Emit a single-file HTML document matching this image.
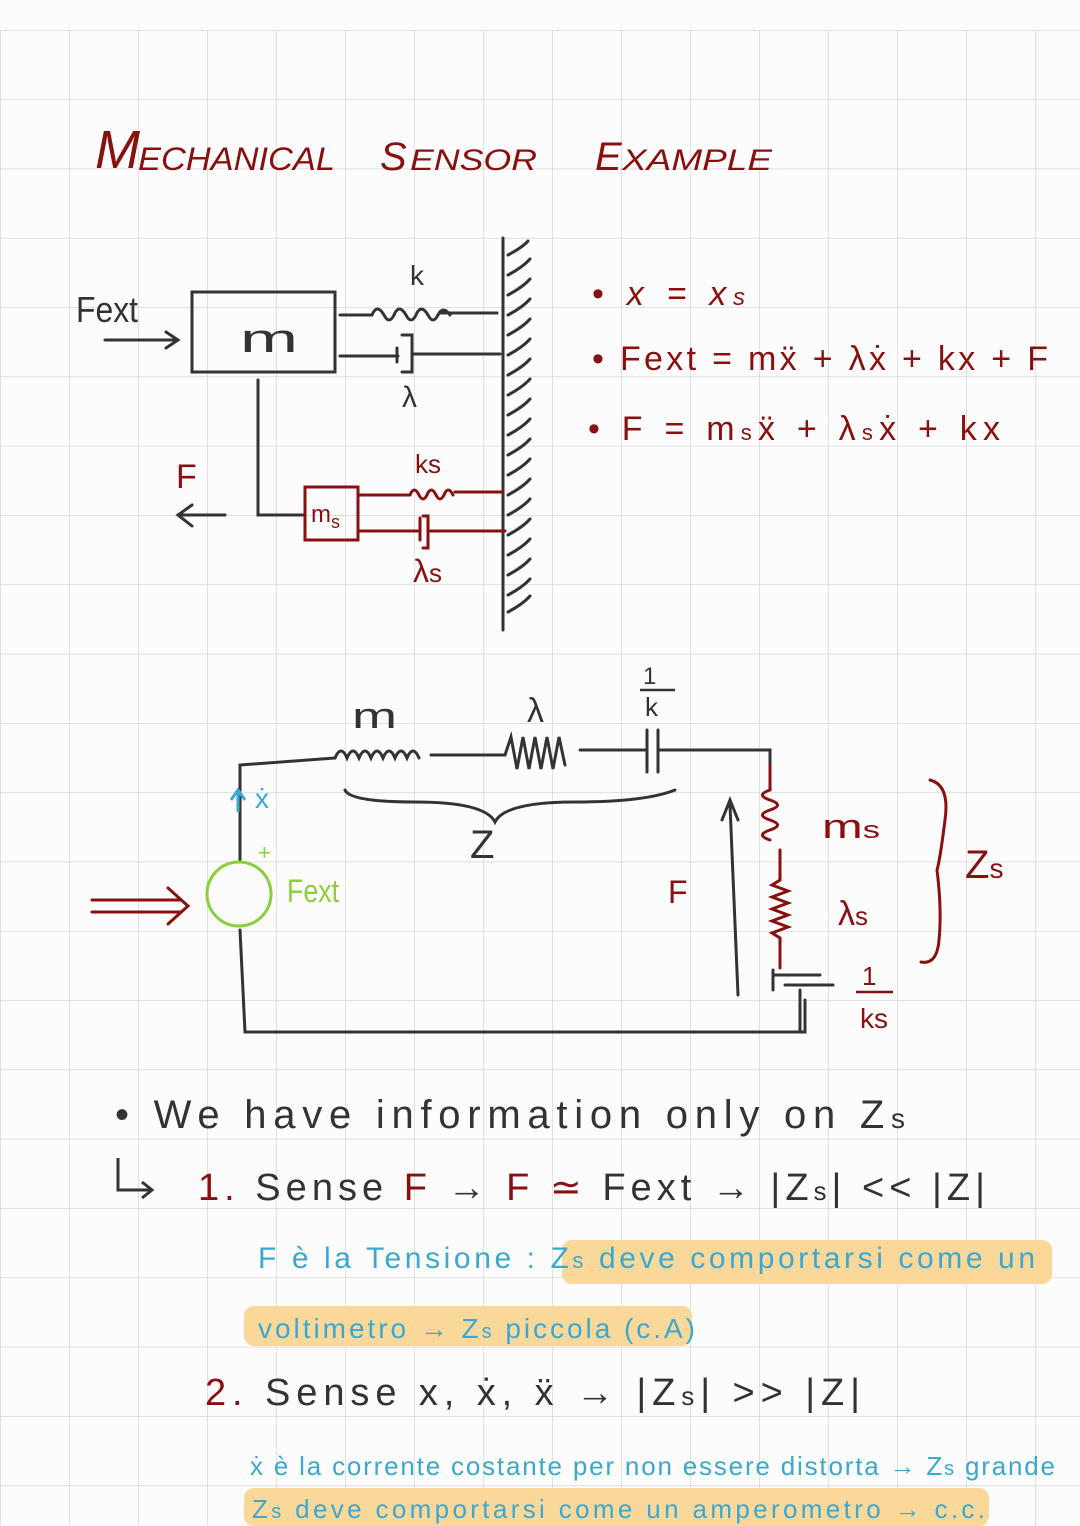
<!DOCTYPE html>
<html><head><meta charset="utf-8"><style>
html,body{margin:0;padding:0;background:#fcfcfc;}
svg{display:block}
text{font-family:"Liberation Sans",sans-serif;}
.r{fill:#8a1010}.k{fill:#333}.b{fill:#3aa8d0}.g{fill:#8ccf3c}
</style></head><body>
<svg width="1080" height="1526" viewBox="0 0 1080 1526" xmlns="http://www.w3.org/2000/svg">
<defs>
<pattern id="grid" x="0" y="30" width="69" height="69.3" patternUnits="userSpaceOnUse">
<path d="M0 0H69M0 0V69.3" stroke="#cfcfcf" stroke-width="1.2" fill="none"/>
</pattern>
</defs>
<rect x="0" y="30" width="1080" height="1496" fill="url(#grid)"/>
<!-- title -->
<text x="95" y="168" class="r" font-size="54" font-style="italic">M</text>
<text x="138" y="170" class="r" font-size="32" font-style="italic" textLength="197" lengthAdjust="spacingAndGlyphs">ECHANICAL</text>
<text x="380" y="170" class="r" font-size="40" font-style="italic">S</text>
<text x="410" y="170" class="r" font-size="30" font-style="italic" textLength="127" lengthAdjust="spacingAndGlyphs">ENSOR</text>
<text x="595" y="170" class="r" font-size="40" font-style="italic">E</text>
<text x="622" y="170" class="r" font-size="30" font-style="italic" textLength="150" lengthAdjust="spacingAndGlyphs">XAMPLE</text>

<!-- mechanical diagram -->
<g stroke="#333" stroke-width="3" fill="none" stroke-linecap="round">
<rect x="192" y="292" width="143" height="80"/>
<path d="M105 340H178M166 332L178 340L166 348"/>
<path d="M340 315H372M440 313H497"/>
<path d="M372 315q5-12 12 0q5 10 10 0q5-12 12 0q5 10 10 0q5-12 12 0q5 10 10 0q5-10 12 0"/>
<path d="M340 356H398M397 348V362M402 335H412V372H402M413 354H500"/>
<path d="M258 380V515H305"/>
<path d="M503 238V630"/>
<path d="M508 255q15-8 20-14M508 275q15-8 22-16M508 295q15-8 22-16M508 315q15-8 22-16M508 335q15-8 22-16M508 355q15-8 22-16M508 375q15-8 22-16M508 395q15-8 22-16M508 415q15-8 22-16M508 435q15-8 22-16M508 455q15-8 22-16M508 475q15-8 22-16M508 495q15-8 22-16M508 515q15-8 22-16M508 535q15-8 22-16M508 555q15-8 22-16M508 575q15-8 22-16M508 595q15-8 22-16M508 612q15-8 22-16"/>
<path d="M225 515H180M192 505L178 515L192 526"/>
</g>
<text x="76" y="322" class="k" font-size="36" textLength="62" lengthAdjust="spacingAndGlyphs">Fext</text>
<text x="240" y="352" class="k" font-size="40" textLength="58" lengthAdjust="spacingAndGlyphs">m</text>
<text x="410" y="285" class="k" font-size="28">k</text>
<text x="402" y="407" class="k" font-size="30">λ</text>
<g stroke="#8a1010" stroke-width="3" fill="none" stroke-linecap="round">
<rect x="305" y="487" width="53" height="53"/>
<path d="M358 495H410M455 492H503"/>
<path d="M410 495q4-10 9 0q4 8 8 0q4-10 9 0q4 8 8 0q4-10 9 0"/>
<path d="M358 531H420M420 518V540M423 516H428V548H423M429 531H505"/>
</g>
<text x="311" y="522" class="r" font-size="24">m<tspan font-size="18" dy="6">s</tspan></text>
<text x="176" y="488" class="r" font-size="34">F</text>
<text x="415" y="473" class="r" font-size="26">ks</text>
<text x="413" y="582" class="r" font-size="32">λ<tspan font-size="26">s</tspan></text>

<!-- equations -->
<text x="592" y="305" class="r" font-size="34" textLength="153" lengthAdjust="spacing">• <tspan font-style="italic">x = x<tspan font-size="24">s</tspan></tspan></text>
<text x="592" y="370" class="r" font-size="34" textLength="456" lengthAdjust="spacing">• Fext = mẍ + λẋ + kx + F</text>
<text x="588" y="440" class="r" font-size="34" textLength="412" lengthAdjust="spacing">• F = m<tspan font-size="22">s</tspan>ẍ + λ<tspan font-size="22">s</tspan>ẋ + kx</text>

<!-- circuit -->
<g stroke="#333" stroke-width="3" fill="none" stroke-linecap="round">
<path d="M240 860V765L335 758"/>
<path d="M335 758q6-14 12 0q6-14 12 0q6-14 12 0q6-14 12 0q6-14 12 0q6-14 12 0q6-14 12 0M431 755H505"/>
<path d="M505 755l6-18l6 32l6-32l6 32l6-32l6 32l6-32l6 32l6-32l6 28M580 750H645"/>
<path d="M647 730V772M658 730V772M660 750H770V765"/>
<path d="M345 790q5 12 70 12q70 0 80 20q10-20 80-20q70 0 100-12"/>
<path d="M240 930L245 1032H805V1000"/>
<path d="M773 970V990M775 975H820M785 985H833M800 990V1032"/>
<path d="M738 995L730 805M722 820L730 800L738 820"/>
</g>
<g stroke="#8a1010" stroke-width="3" fill="none" stroke-linecap="round">
<path d="M770 765V790"/>
<path d="M770 790q-15 5 0 10q15 5 0 10q-15 5 0 10q15 5 0 10q-15 5 0 10"/>
<path d="M780 850V880l-8 5l16 6l-16 6l16 6l-16 6l16 6l-16 6l16 6l-16 6l8 5V968"/>
<path d="M930 780q20 5 15 40q-5 40-8 50q5 40 2 70q-2 25-18 22"/>
<path d="M92 900H180M92 912H180M168 888L188 906L168 924"/>
</g>
<circle cx="239" cy="894" r="32" fill="none" stroke="#8ccf3c" stroke-width="3"/>
<path d="M238 812V792M231 800L238 790L245 800" stroke="#3aa8d0" stroke-width="3" fill="none"/>
<text x="255" y="808" class="b" font-size="28">ẋ</text>
<text x="258" y="860" class="g" font-size="22">+</text>
<text x="287" y="902" class="g" font-size="32" textLength="52" lengthAdjust="spacingAndGlyphs">Fext</text>
<text x="352" y="728" class="k" font-size="36" textLength="45" lengthAdjust="spacingAndGlyphs">m</text>
<text x="527" y="722" class="k" font-size="34">λ</text>
<text x="643" y="684" class="k" font-size="24">1</text>
<path d="M640 690H675" stroke="#333" stroke-width="2.5"/>
<text x="645" y="716" class="k" font-size="26">k</text>
<text x="470" y="858" class="k" font-size="40">Z</text>
<text x="668" y="903" class="r" font-size="32">F</text>
<text x="822" y="838" class="r" font-size="34" textLength="58" lengthAdjust="spacingAndGlyphs">m<tspan font-size="24">s</tspan></text>
<text x="838" y="925" class="r" font-size="34">λ<tspan font-size="26">s</tspan></text>
<text x="965" y="878" class="r" font-size="40">Z<tspan font-size="28">s</tspan></text>
<text x="862" y="985" class="r" font-size="26">1</text>
<path d="M856 992H893" stroke="#8a1010" stroke-width="2.5"/>
<text x="860" y="1028" class="r" font-size="28">ks</text>

<!-- bottom notes -->
<rect x="562" y="1240" width="490" height="44" rx="10" fill="#f9d89a"/>
<rect x="244" y="1306" width="448" height="40" rx="10" fill="#f9d89a"/>
<rect x="244" y="1488" width="745" height="38" rx="10" fill="#f9d89a"/>
<text x="115" y="1128" class="k" font-size="40" textLength="790" lengthAdjust="spacing">• We  have  information  only  on  Z<tspan font-size="28">s</tspan></text>
<path d="M118 1158V1190H150M142 1182L152 1190L142 1198" stroke="#333" stroke-width="3" fill="none"/>
<text x="198" y="1200" font-size="38" textLength="787" lengthAdjust="spacing"><tspan class="r">1.</tspan><tspan class="k"> Sense  </tspan><tspan class="r">F</tspan><tspan class="k">  →  </tspan><tspan class="r">F ≃ </tspan><tspan class="k">Fext  →  |Z<tspan font-size="26">s</tspan>| &lt;&lt; |Z|</tspan></text>
<text x="258" y="1268" class="b" font-size="30" textLength="777" lengthAdjust="spacing">F   è  la Tensione :  Z<tspan font-size="22">s</tspan> deve  comportarsi come  un</text>
<text x="258" y="1338" class="b" font-size="28" textLength="437" lengthAdjust="spacing">voltimetro   → Z<tspan font-size="20">s</tspan>  piccola  (c.A)</text>
<text x="205" y="1405" font-size="38" textLength="655" lengthAdjust="spacing"><tspan class="r">2.</tspan><tspan class="k"> Sense  x, ẋ, ẍ  →  |Z<tspan font-size="26">s</tspan>| &gt;&gt; |Z|</tspan></text>
<text x="250" y="1475" class="b" font-size="26" textLength="805" lengthAdjust="spacing">ẋ  è  la  corrente  costante  per non essere  distorta → Z<tspan font-size="20">s</tspan>  grande</text>
<text x="252" y="1518" class="b" font-size="26" textLength="733" lengthAdjust="spacing">Z<tspan font-size="20">s</tspan>  deve   comportarsi come   un   amperometro  → c.c.</text>
</svg>
</body></html>
